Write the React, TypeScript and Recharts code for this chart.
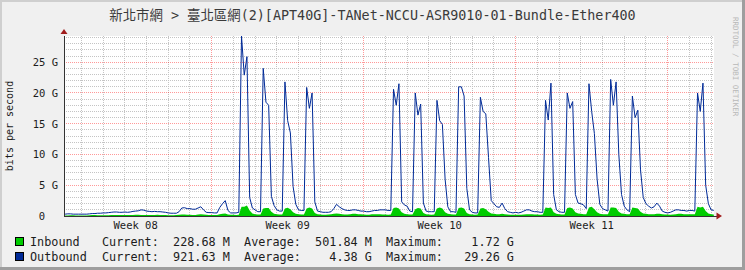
import { ComposedChart, Area, Line, XAxis, YAxis, CartesianGrid } from "recharts";

// traffic in Gbit/s, one sample every 3 hours (week 08 starts at 06:00 of its first day)
const outboundW08 = [
  0.3, 0.35, 0.35, 0.3, 0.3, 0.3,
  0.3, 0.3, 0.3, 0.35, 0.4, 0.4, 0.45, 0.45,
  0.5, 0.5, 0.55, 0.6, 0.65, 0.65, 0.6, 0.6,
  0.65, 0.6, 0.65, 0.75, 0.8, 0.85, 1.0, 0.95,
  0.8, 0.75, 0.7, 0.75, 0.7, 0.7, 0.65, 0.6,
  0.5, 0.45, 0.45, 0.45, 0.7, 1.3, 1.35, 1.2,
  1.2, 1.1, 1.1, 1.3, 1.5, 1.0, 0.6, 0.55,
];
const outboundW09 = [
  0.55, 0.5, 0.5, 1.4, 2.0, 2.5, 0.9, 0.5,
  0.5, 0.5, 0.6, 29.26, 22.9, 25.9, 3.0, 1.3,
  1.0, 0.7, 0.7, 24.0, 18.5, 18.0, 3.2, 1.7,
  1.0, 0.8, 0.8, 21.8, 15.5, 13.5, 4.8, 1.9,
  1.0, 0.9, 0.9, 20.9, 17.5, 20.0, 2.3, 0.8,
  0.7, 0.6, 0.6, 0.6, 0.7, 1.2, 1.9, 1.5,
  1.2, 1.0, 0.9, 0.9, 1.0, 1.0, 0.9, 0.8,
];
const outboundW10 = [
  0.8, 0.7, 0.7, 0.8, 0.9, 0.9, 1.0, 1.0,
  1.0, 0.9, 0.9, 20.6, 18.0, 21.5, 2.3, 1.8,
  1.6, 0.8, 0.7, 20.0, 16.4, 18.2, 2.1, 0.8,
  0.7, 0.7, 0.7, 18.8, 15.5, 14.9, 6.0, 1.5,
  0.7, 0.7, 0.6, 21.0, 21.0, 19.5, 4.5, 1.0,
  0.6, 0.5, 0.5, 19.3, 17.0, 16.6, 9.5, 2.5,
  2.0, 1.5, 1.4, 2.1, 1.2, 0.7, 0.6, 0.5,
];
const outboundW11 = [
  0.6, 0.5, 0.6, 0.8, 1.0, 1.0, 0.8, 0.7,
  0.7, 0.6, 0.6, 18.8, 15.6, 21.6, 3.5, 1.0,
  0.7, 0.6, 0.6, 20.0, 17.5, 18.6, 3.5, 2.1,
  2.0, 1.8, 1.2, 21.5, 17.0, 13.4, 6.0, 1.9,
  1.2, 1.0, 0.8, 22.2, 18.0, 21.8, 10.0, 3.5,
  1.6, 1.0, 0.7, 19.5, 16.0, 17.2, 7.5, 3.0,
  2.0, 1.6, 1.3, 1.5, 2.1, 1.6, 0.8, 0.6,
];
const outboundW12 = [
  0.5, 0.6, 0.8, 1.0, 1.0, 0.9, 0.9, 0.8,
  0.9, 0.9, 0.8, 20.0, 17.0, 21.6, 5.0, 2.0,
  1.0, 0.92,
];

const inboundW08 = [
  0.1, 0.1, 0.12, 0.12, 0.1, 0.1,
  0.1, 0.1, 0.1, 0.12, 0.15, 0.15, 0.12, 0.12,
  0.12, 0.12, 0.12, 0.15, 0.18, 0.18, 0.15, 0.15,
  0.15, 0.15, 0.15, 0.18, 0.2, 0.2, 0.18, 0.15,
  0.15, 0.15, 0.15, 0.18, 0.2, 0.18, 0.15, 0.15,
  0.12, 0.12, 0.12, 0.15, 0.2, 0.25, 0.25, 0.2,
  0.2, 0.18, 0.18, 0.25, 0.3, 0.25, 0.2, 0.18,
];
const inboundW09 = [
  0.18, 0.15, 0.15, 0.3, 0.35, 0.4, 0.25, 0.2,
  0.2, 0.18, 0.2, 1.5, 1.5, 1.72, 0.9, 0.4,
  0.3, 0.25, 0.25, 1.2, 1.3, 1.3, 0.7, 0.35,
  0.3, 0.25, 0.25, 1.2, 1.35, 1.1, 0.6, 0.35,
  0.3, 0.25, 0.25, 1.2, 1.4, 1.2, 0.5, 0.3,
  0.25, 0.2, 0.2, 0.25, 0.3, 0.35, 0.4, 0.35,
  0.3, 0.25, 0.25, 0.3, 0.35, 0.35, 0.3, 0.3,
];
const inboundW10 = [
  0.25, 0.22, 0.22, 0.28, 0.3, 0.3, 0.28, 0.25,
  0.25, 0.22, 0.25, 1.3, 1.4, 1.2, 0.6, 0.35,
  0.3, 0.25, 0.25, 1.1, 1.3, 1.2, 0.5, 0.3,
  0.25, 0.22, 0.25, 1.2, 1.4, 1.2, 0.6, 0.35,
  0.3, 0.25, 0.25, 1.3, 1.4, 1.2, 0.5, 0.3,
  0.25, 0.22, 0.25, 1.2, 1.3, 1.1, 0.7, 0.4,
  0.35, 0.3, 0.28, 0.35, 0.3, 0.25, 0.22, 0.22,
];
const inboundW11 = [
  0.22, 0.2, 0.2, 0.25, 0.3, 0.3, 0.28, 0.25,
  0.25, 0.22, 0.25, 1.4, 1.3, 1.4, 0.6, 0.35,
  0.3, 0.25, 0.25, 1.3, 1.4, 1.2, 0.6, 0.4,
  0.35, 0.3, 0.3, 1.4, 1.5, 1.1, 0.6, 0.35,
  0.3, 0.28, 0.28, 1.4, 1.4, 1.3, 0.7, 0.4,
  0.35, 0.3, 0.3, 1.4, 1.3, 1.2, 0.7, 0.4,
  0.35, 0.3, 0.3, 0.3, 0.35, 0.35, 0.3, 0.25,
];
const inboundW12 = [
  0.25, 0.22, 0.25, 0.3, 0.35, 0.35, 0.3, 0.3,
  0.3, 0.28, 0.3, 1.5, 1.4, 1.5, 0.8, 0.4,
  0.3, 0.23,
];

const weekLabels = ["Week 08", "Week 09", "Week 10", "Week 11"];
const weekCenterHours = [84, 252, 420, 588];
const weekStartHours = [168, 336, 504, 672];
const yTicks = [0, 5, 10, 15, 20, 25];

const legendRows = [
  { name: "Inbound", color: "#00CC00", text: "Current:  228.68 M  Average:  501.84 M  Maximum:    1.72 G" },
  { name: "Outbound", color: "#002A97", text: "Current:  921.63 M  Average:    4.38 G  Maximum:   29.26 G" },
];

const TITLE = "新北市網 > 臺北區網(2)[APT40G]-TANet-NCCU-ASR9010-01-Bundle-Ether400";

const STEP_HOURS = 3;
const X_DOMAIN: [number, number] = [4.8, 723.2];
const Y_MAX = 29.26;

const segments = [
  { from: 6, outbound: outboundW08, inbound: inboundW08 },
  { from: 168, outbound: outboundW09, inbound: inboundW09 },
  { from: 336, outbound: outboundW10, inbound: inboundW10 },
  { from: 504, outbound: outboundW11, inbound: inboundW11 },
  { from: 672, outbound: outboundW12, inbound: inboundW12 },
];

const data = segments.flatMap((s) =>
  s.outbound.map((v, i) => ({
    t: s.from + i * STEP_HOURS,
    outbound: v,
    inbound: s.inbound[i],
  }))
);

// grid: every 1G / every day (minor), every 5G / every week (major)
const minorY = Array.from({ length: 29 }, (_, i) => i + 1).filter((v) => v % 5 !== 0);
const majorY = [5, 10, 15, 20, 25];
const minorX = Array.from({ length: 30 }, (_, i) => (i + 1) * 24).filter(
  (h) => !weekStartHours.includes(h)
);

const MONO = "'DejaVu Sans Mono', 'Noto Sans CJK TC', monospace";
const INK = "#1c1c1c";

interface TickProps {
  x?: number;
  y?: number;
  payload?: { value: number };
}

const YTick = ({ x = 0, y = 0, payload }: TickProps) => {
  const v = payload?.value ?? 0;
  return (
    <text
      x={x}
      y={y}
      dy={3.8}
      dx={v === 0 ? -13 : 0}
      textAnchor="end"
      fontFamily={MONO}
      fontSize={10.5}
      fill={INK}
    >
      {v === 0 ? "0" : `${v} G`}
    </text>
  );
};

const XTick = ({ x = 0, y = 0, payload }: TickProps) => {
  const idx = weekCenterHours.indexOf(payload?.value ?? -1);
  return (
    <text x={x} y={y} dy={8} textAnchor="middle" fontFamily={MONO} fontSize={10.5} fill={INK}>
      {weekLabels[idx] ?? ""}
    </text>
  );
};

const Decorations = () => (
  <svg
    width={745}
    height={270}
    style={{ position: "absolute", left: 0, top: 0, pointerEvents: "none" }}
  >
    {/* 3d frame */}
    <rect x={0} y={0} width={745} height={2} fill="#cfcfcf" />
    <rect x={0} y={0} width={2} height={270} fill="#cfcfcf" />
    <rect x={742} y={0} width={3} height={270} fill="#9e9e9e" />
    <rect x={0} y={267} width={745} height={3} fill="#9e9e9e" />

    <text x={372.5} y={19.5} textAnchor="middle" fontFamily={MONO} fontSize={13.4} fill="#3a3a3a">
      {TITLE}
    </text>

    <text
      x={13}
      y={126}
      transform="rotate(-90 13 126)"
      textAnchor="middle"
      fontFamily={MONO}
      fontSize={10}
      fill={INK}
    >
      bits per second
    </text>

    <text
      x={733}
      y={17}
      transform="rotate(90 733 17)"
      fontFamily={MONO}
      fontSize={7.5}
      fill="#b8b8b8"
    >
      RRDTOOL / TOBI OETIKER
    </text>

    {/* axis arrows */}
    <line x1={713} y1={216} x2={717} y2={216} stroke="#333" shapeRendering="crispEdges" />
    <polygon points="60.5,34 67.5,34 64,29" fill="#a01c1c" />
    <polygon points="716.5,212.5 716.5,219.5 722,216" fill="#a01c1c" />

    {legendRows.map((row, i) => (
      <g key={row.name}>
        <rect
          x={15.5}
          y={237.5 + i * 15}
          width={8}
          height={8}
          fill={row.color}
          stroke="#000"
          strokeWidth={1}
        />
        <text x={30} y={245.5 + i * 15} fontFamily={MONO} fontSize={11.8} fill={INK}>
          {row.name}
        </text>
        <text
          x={102}
          y={245.5 + i * 15}
          fontFamily={MONO}
          fontSize={11.8}
          fill={INK}
          xmlSpace="preserve"
          style={{ whiteSpace: "pre" }}
        >
          {row.text}
        </text>
      </g>
    ))}
  </svg>
);

const App = () => {
  return (
    <div
      style={{
        position: "absolute",
        left: 0,
        top: 0,
        width: 745,
        height: 270,
        background: "#f0f0f0",
        overflow: "hidden",
      }}
    >
      <ComposedChart
        width={745}
        height={270}
        data={data}
        margin={{ top: 36, right: 31, bottom: 34, left: 0 }}
      >
        <CartesianGrid
          fill="#ffffff"
          stroke="#c4c4c4"
          strokeDasharray="1 1"
          horizontalValues={minorY}
          verticalValues={minorX}
          shapeRendering="crispEdges"
        />
        <CartesianGrid
          stroke="#ff0000"
          strokeOpacity={0.4}
          strokeDasharray="1 1"
          horizontalValues={majorY}
          verticalValues={weekStartHours}
          shapeRendering="crispEdges"
        />
        <XAxis
          type="number"
          dataKey="t"
          domain={X_DOMAIN}
          ticks={weekCenterHours}
          allowDataOverflow
          height={20}
          tickSize={0}
          tickMargin={5}
          tick={<XTick />}
          axisLine={{ stroke: "#333", shapeRendering: "crispEdges" }}
          tickLine={false}
          interval={0}
        />
        <YAxis
          type="number"
          domain={[0, Y_MAX]}
          ticks={yTicks}
          allowDataOverflow
          width={64}
          tickSize={0}
          tickMargin={6}
          tick={<YTick />}
          axisLine={{ stroke: "#333", shapeRendering: "crispEdges" }}
          tickLine={false}
          interval={0}
        />
        <Area
          type="linear"
          dataKey="inbound"
          stroke="none"
          fill="#00CC00"
          fillOpacity={1}
          isAnimationActive={false}
          dot={false}
          activeDot={false}
        />
        <Line
          type="linear"
          dataKey="outbound"
          stroke="#002A97"
          strokeWidth={1}
          dot={false}
          activeDot={false}
          isAnimationActive={false}
        />
      </ComposedChart>
      <Decorations />
    </div>
  );
};

export default App;
